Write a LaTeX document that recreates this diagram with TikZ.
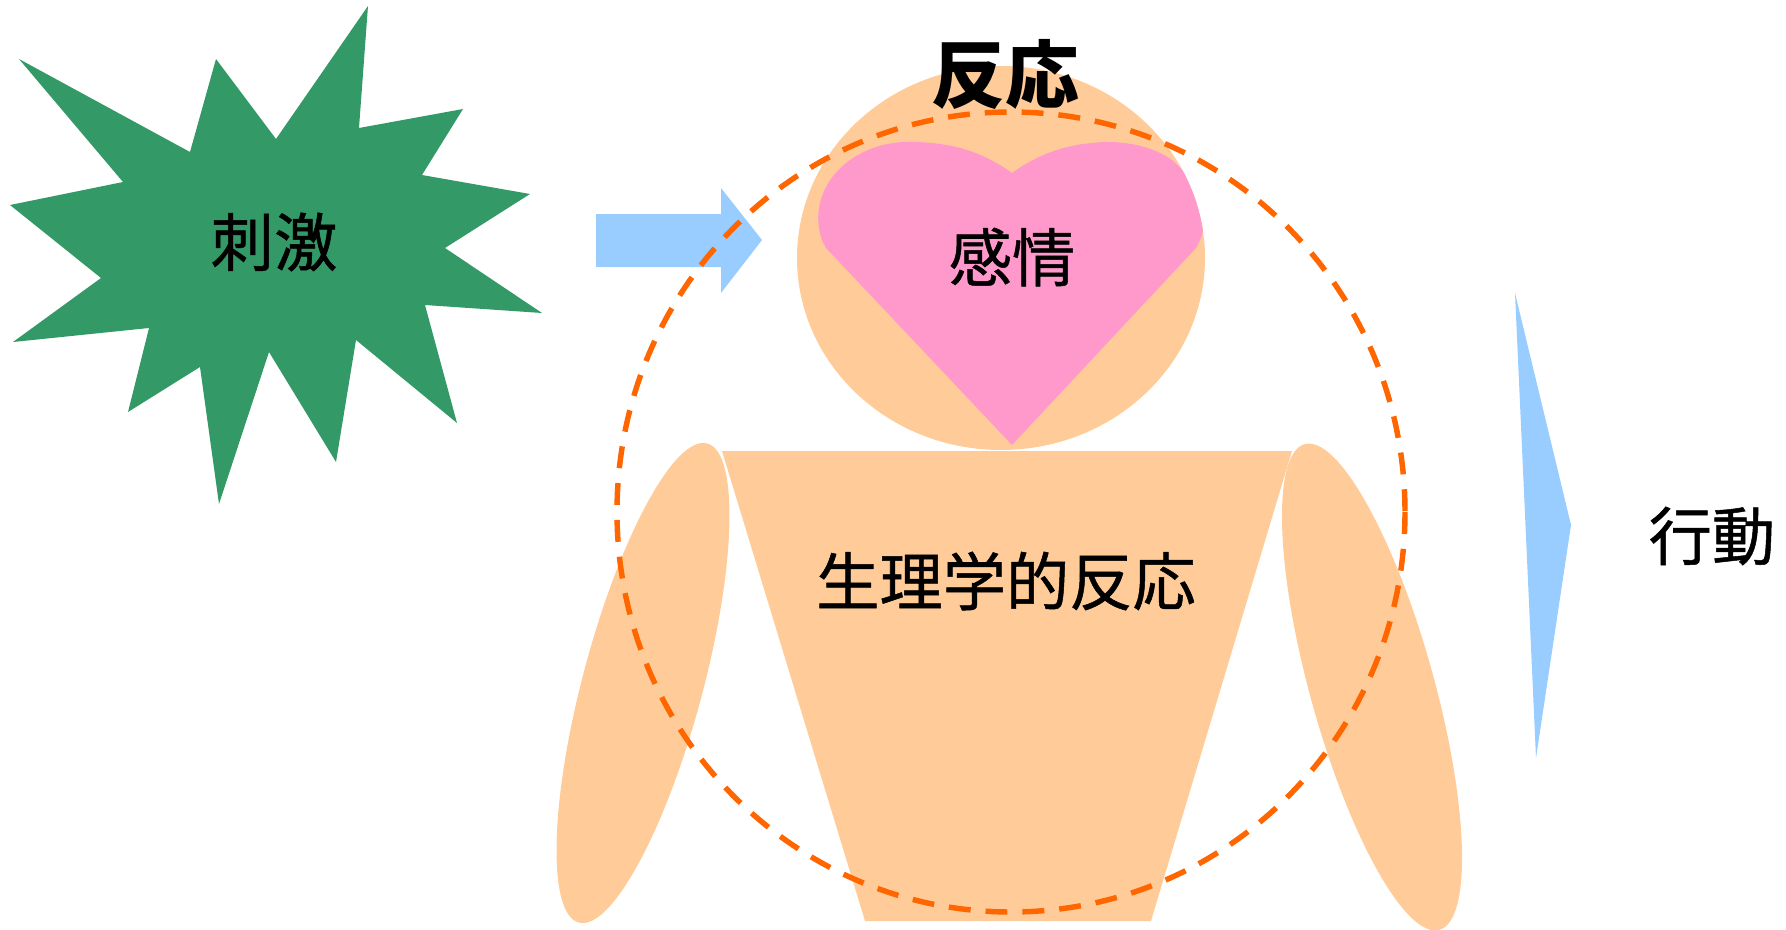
\documentclass[tikz,border=0pt]{standalone}
\usepackage{fontspec}
\setmainfont{Noto Sans CJK JP}
\newfontfamily\jpmid[FakeBold=0.8]{Noto Sans CJK JP}
\usepackage{tikz}
\usetikzlibrary{positioning}

\definecolor{burstgreen}{HTML}{339966}
\definecolor{skin}{HTML}{FFCC99}
\definecolor{heartpink}{HTML}{FF99CC}
\definecolor{flowblue}{HTML}{99CCFF}
\definecolor{dashorange}{HTML}{FF6600}

\begin{document}
\begin{tikzpicture}[
    x=0.02cm, y=-0.02cm,
    txt/.style={inner sep=0pt, font=\jpmid\fontsize{36}{40}\selectfont},
    headline/.style={inner sep=0pt, font=\fontsize{42}{46}\selectfont\bfseries},
    body/.style={fill=skin},
    flow/.style={fill=flowblue},
    ring/.style={draw=dashorange, line width=3.1pt, dash pattern=on 12.5pt off 8.5pt}
]
\useasboundingbox (0,0) rectangle (1786,930);

% Stimulus burst
\fill[burstgreen] (19,59) -- (190,152) -- (216,59) -- (276,139) -- (368,6) -- (359,128)
    -- (463,109) -- (422,175) -- (530,194) -- (445,248) -- (542,313) -- (425,305)
    -- (457,423) -- (356,340) -- (336,462) -- (269,352) -- (219,504) -- (200,367)
    -- (128,412) -- (149,328) -- (13,342) -- (101,278) -- (10,205) -- (123,182) -- cycle;
\node[txt] (stimulus) at (274,242) {刺激};

% Input arrow
\fill[flow] (596,214) -- (721,214) -- (721,188) -- (762,240) -- (721,293)
    -- (721,267) -- (596,267) -- cycle;

% Arms and torso
\fill[body, rotate around={-15:(643,683)}] (643,683) ellipse [x radius=60, y radius=248];
\fill[body, rotate around={15.5:(1372,687)}] (1372,687) ellipse [x radius=62, y radius=252];
\fill[body] (722,451) -- (1292,451) -- (1151,921) -- (865,921) -- cycle;

% Head with heart
\fill[body] (1001,258) ellipse [x radius=204, y radius=192];
\begin{scope}
  \clip (1001,258) ellipse [x radius=204, y radius=192];
  \fill[heartpink] (1012,445) -- (826,248)
      .. controls (812,225) and (815,185) .. (850,160)
      .. controls (870,146) and (892,141) .. (915,142)
      .. controls (950,143) and (980,150) .. (1012,173)
      .. controls (1044,150) and (1074,143) .. (1107,142)
      .. controls (1132,142) and (1155,148) .. (1172,160)
      .. controls (1200,185) and (1215,215) .. (1196,248) -- cycle;
\end{scope}
\node[txt] (emotion) at (1012,257) {感情};

% Reaction boundary
\draw[ring] (1011,512) ellipse [x radius=394, y radius=400];
\node[headline] (reaction) at (1005,74) {反応};
\node[txt] (physio) at (1006,581) {生理学的反応};

% Output wedge
\fill[flow] (1515,293) -- (1571,525) -- (1536,758) -- cycle;
\node[txt] (behavior) at (1712,536) {行動};

\end{tikzpicture}
\end{document}
